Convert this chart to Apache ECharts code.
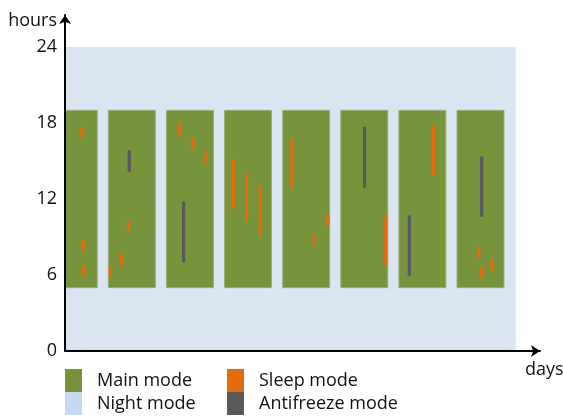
<!DOCTYPE html>
<html><head><meta charset="utf-8">
<script src="https://cdn.jsdelivr.net/npm/echarts@6/dist/echarts.min.js"></script>
<style>html,body{margin:0;padding:0;background:#fff}#c{width:563px;height:416px}</style>
</head><body><div id="c"></div>
<script>
// ---- data ----
const days = [1, 2, 3, 4, 5, 6, 7, 8];
const mainHours = [5, 19];      // main mode each day
const nightHours = [0, 24];     // night mode background
const yTicks = [0, 6, 12, 18, 24];
// [position in day units, start hour, end hour]
const sleepPeriods = [
  [1.14, 16.8, 17.7], [1.16, 7.9, 8.8], [1.17, 5.95, 6.8],
  [1.94, 9.4, 10.3], [1.82, 6.8, 7.7], [1.63, 5.75, 6.6],
  [2.82, 17.05, 17.9], [3.05, 15.95, 16.85], [3.28, 14.85, 15.75],
  [3.745, 11.25, 15.15], [3.975, 10.2, 14.1], [4.21, 9.1, 13.05],
  [4.755, 12.85, 16.7], [5.375, 9.9, 10.8], [5.14, 8.35, 9.2],
  [6.37, 6.8, 10.7],
  [7.19, 13.9, 17.8],
  [7.97, 7.4, 8.25], [8.2, 6.3, 7.2], [8.02, 5.75, 6.6]
];
const antifreezePeriods = [
  [1.955, 14.15, 15.85],
  [2.89, 7.0, 11.8],
  [6.005, 12.9, 17.7],
  [6.775, 5.95, 10.7],
  [8.02, 10.6, 15.35]
];

// ---- layout constants ----
const X_MIN = 0.849, X_MAX = 9.024, NIGHT_END_X = 8.606, DAY_HALF = 0.404;
const COLORS = { main: '#77933C', night: '#DBE5F1', nightLegend: '#C6D9F1', sleep: '#E46C0A', anti: '#595959' };
const FONT = "'Open Sans', 'Liberation Sans', sans-serif";

function rectFrom(api, x0, x1, y0, y1, style) {
  const a = api.coord([x0, y1]), b = api.coord([x1, y0]);
  return { type: 'rect', shape: { x: a[0], y: a[1], width: b[0] - a[0], height: b[1] - a[1] }, style: style };
}
function barSeries(name, data, color) {
  return {
    name, type: 'custom', z: 4, clip: true, itemStyle: { color },
    data,
    renderItem: function (params, api) {
      const a = api.coord([api.value(0), api.value(2)]);
      const b = api.coord([api.value(0), api.value(1)]);
      return { type: 'rect', shape: { x: a[0] - 1.6, y: a[1], width: 3.2, height: b[1] - a[1] }, style: { fill: color } };
    }
  };
}
function legendAt(item, left, top) {
  return {
    data: [item], left, top, orient: 'horizontal', selectedMode: false,
    itemWidth: 17, itemHeight: 23, padding: 0, icon: 'rect',
    textStyle: { fontFamily: FONT, fontSize: 18, color: '#111', padding: [0, 0, 0, 10] }
  };
}

const chart = echarts.init(document.getElementById('c'));
chart.setOption({
  animation: false,
  grid: { left: 65, right: 23, top: 15, bottom: 65, containLabel: false, outerBoundsMode: 'none' },
  xAxis: {
    type: 'value', min: X_MIN, max: X_MAX, z: 10,
    name: 'days', nameLocation: 'end', nameGap: -15,
    nameTextStyle: { fontFamily: FONT, fontSize: 18, color: '#111', align: 'left', verticalAlign: 'top', padding: [10, 0, 0, 0] },
    axisLine: { show: true, lineStyle: { color: '#000', width: 2 }, symbol: ['none', 'arrow'], symbolSize: [9, 9] },
    axisTick: { show: false }, axisLabel: { show: false }, splitLine: { show: false }
  },
  yAxis: {
    type: 'value', min: 0, max: 26.53, interval: 6, z: 10,
    name: 'hours', nameLocation: 'end', nameGap: -6,
    nameTextStyle: { fontFamily: FONT, fontSize: 18, color: '#111', align: 'right', verticalAlign: 'middle', padding: [0, 8, 0, 0] },
    axisLine: { show: true, lineStyle: { color: '#000', width: 2 }, symbol: ['none', 'arrow'], symbolSize: [9, 9] },
    axisTick: { show: false }, splitLine: { show: false },
    axisLabel: {
      fontFamily: FONT, fontSize: 18, color: '#111', margin: 8, showMaxLabel: false,
      formatter: v => (yTicks.indexOf(v) >= 0 ? String(v) : '')
    }
  },
  legend: [
    legendAt('Main mode', 65, 369),
    legendAt('Sleep mode', 227, 369),
    legendAt({ name: 'Night mode', itemStyle: { color: COLORS.nightLegend } }, 65, 392),
    legendAt('Antifreeze mode', 227, 392)
  ],
  series: [
    {
      name: 'Night mode', type: 'custom', z: 1, clip: true, itemStyle: { color: COLORS.nightLegend },
      data: [[nightHours[0], nightHours[1]]],
      renderItem: (p, api) => rectFrom(api, X_MIN, NIGHT_END_X, api.value(0), api.value(1), { fill: COLORS.night })
    },
    {
      name: 'Main mode', type: 'custom', z: 2, clip: true, itemStyle: { color: COLORS.main },
      data: days.map(d => [d, mainHours[0], mainHours[1]]),
      renderItem: (p, api) => rectFrom(api, api.value(0) - DAY_HALF, api.value(0) + DAY_HALF, api.value(1), api.value(2),
        { fill: COLORS.main, stroke: '#9BAF78', lineWidth: 1 })
    },
    barSeries('Sleep mode', sleepPeriods, COLORS.sleep),
    barSeries('Antifreeze mode', antifreezePeriods, COLORS.anti)
  ]
});
</script></body></html>
